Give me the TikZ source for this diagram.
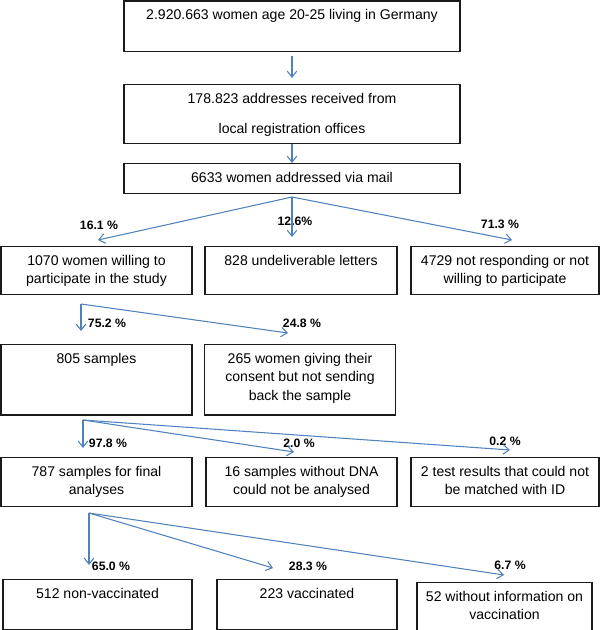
\documentclass[tikz,border=0pt]{standalone}
\usepackage{fontspec}
\setmainfont{Liberation Sans}
\usepackage{xcolor}
\usepackage{tikz}
\usetikzlibrary{arrows.meta,positioning}
\definecolor{flowblue}{HTML}{4F81BD}
\definecolor{flowframe}{HTML}{1A1A1A}
\newcommand{\toplines}[1]{\begin{tabular}[t]{@{}c@{}}#1\end{tabular}}
\tikzset{
  box/.style={rectangle,draw=flowframe,line width=0.8pt,anchor=north,inner xsep=2pt,inner ysep=0pt,text height=13.3pt,font=\fontsize{10}{13.3}\selectfont},
  pct/.style={inner sep=0pt,font=\fontsize{8.7}{10}\selectfont\bfseries},
  edge/.style={-{Straight Barb[length=4.3pt,width=6.8pt]},line width=0.75pt,draw=flowblue}
}
\begin{document}
\begin{tikzpicture}[x=0.025cm,y=-0.025cm]
\useasboundingbox (0,0) rectangle (600,630);
\node[box,minimum width=8.4cm,text depth=22.6pt] (pop) at (292,0.5) {2.920.663 women age 20-25 living in Germany};
\node[box,minimum width=8.4cm,text depth=28.7pt] (addr) at (292,84) {\toplines{178.823 addresses received from\\[8pt]local registration offices}};
\node[box,minimum width=8.4cm,text depth=8pt] (mail) at (292,163) {6633 women addressed via mail};
\node[box,minimum width=4.775cm,text depth=20.8pt] (will) at (96.5,246) {\toplines{1070 women willing to\\participate in the study}};
\node[box,minimum width=4.8cm,text depth=20.8pt] (undel) at (301,246) {828 undeliverable letters};
\node[box,minimum width=4.7cm,text depth=20.8pt] (noresp) at (505,246) {\toplines{4729 not responding or not\\willing to participate}};
\node[box,minimum width=4.775cm,text depth=36.8pt] (samp) at (96.5,344) {805 samples};
\node[box,minimum width=4.775cm,text depth=36.8pt] (nosend) at (300,344) {\toplines{265 women giving their\\consent but not sending\\back the sample}};
\node[box,minimum width=4.775cm,text depth=21.6pt] (final) at (96.5,457) {\toplines{787 samples for final\\analyses}};
\node[box,minimum width=4.775cm,text depth=21.6pt] (nodna) at (301.5,457) {\toplines{16 samples without DNA\\could not be analysed}};
\node[box,minimum width=4.7cm,text depth=21.6pt] (noid) at (505,457) {\toplines{2 test results that could not\\be matched with ID}};
\node[box,minimum width=4.725cm,text depth=21.9pt] (nonvac) at (97.5,579) {512 non-vaccinated};
\node[box,minimum width=4.5cm,text depth=21.9pt] (vac) at (307,579) {223 vaccinated};
\node[box,minimum width=4.375cm,text depth=20.5pt] (noinfo) at (504.5,582) {\toplines{52 without information on\\vaccination}};
% percentages
\node[pct] (p161) at (99,225) {16.1 \%};
\node[pct] (p126) at (295,221) {12.6\%};
\node[pct] (p713) at (500,224) {71.3 \%};
\node[pct] (p752) at (107,323) {75.2 \%};
\node[pct] (p248) at (302,323) {24.8 \%};
\node[pct] (p978) at (108,443) {97.8 \%};
\node[pct] (p20) at (299,443) {2.0 \%};
\node[pct] (p02) at (505,441) {0.2 \%};
\node[pct] (p650) at (111,566) {65.0 \%};
\node[pct] (p283) at (308,566) {28.3 \%};
\node[pct] (p67) at (510,565) {6.7 \%};
% branch points and arrow ends
\coordinate (m0) at (292,197);
\coordinate (m1) at (98,240);
\coordinate (m2) at (292,237);
\coordinate (m3) at (512,240);
\coordinate (w0) at (81,304);
\coordinate (w1) at (81,331);
\coordinate (w2) at (288,333);
\coordinate (s0) at (83,420);
\coordinate (s1) at (83,448);
\coordinate (s2) at (294,452);
\coordinate (s3) at (510,450);
\coordinate (f0) at (89,513);
\coordinate (f1) at (89,565);
\coordinate (f2) at (273,568);
\coordinate (f3) at (504,575);
\draw[edge,shorten <=2.8pt,shorten >=4.3pt] (pop) -- (addr);
\draw[edge] (addr) -- (mail);
\draw[edge] (m0) -- (m1);
\draw[edge] (m0) -- (m2);
\draw[edge] (m0) -- (m3);
\draw[edge] (w0) -- (w1);
\draw[edge] (w0) -- (w2);
\draw[edge] (s0) -- (s1);
\draw[edge] (s0) -- (s2);
\draw[edge] (s0) -- (s3);
\draw[edge] (f0) -- (f1);
\draw[edge] (f0) -- (f2);
\draw[edge] (f0) -- (f3);
\end{tikzpicture}
\end{document}
